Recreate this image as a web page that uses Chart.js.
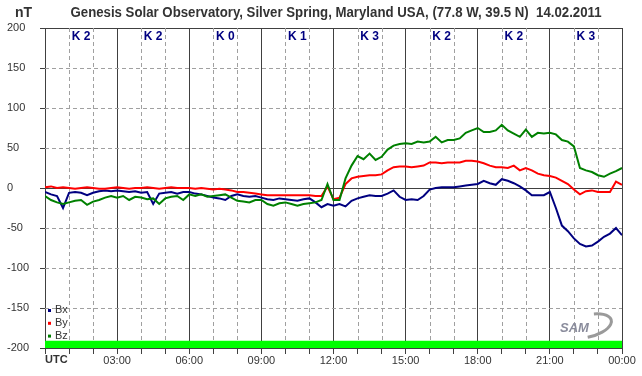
<!DOCTYPE html>
<html>
<head>
<meta charset="utf-8">
<script src="https://cdn.jsdelivr.net/npm/chart.js@4.4.0/dist/chart.umd.min.js"></script>
<style>
  html, body { margin: 0; padding: 0; background: #fff; }
  canvas { display: block; }
</style>
</head>
<body>
<canvas id="magChart" width="642" height="376"></canvas>
<script>
// magnetometer samples every 15 minutes, 00:00 .. 24:00 UTC (nT)
const stepHours = 0.25;

const bx = [
  -5, -8, -10, -25, -6, -5, -6, -9, -6, -4, -3, -4,
  -3, -4, -5, -4, -6, -5, -20, -7, -6, -5, -7, -5,
  -5, -7, -8, -10, -12, -13, -15, -10, -8, -10, -11, -10,
  -12, -14, -15, -13, -14, -15, -16, -14, -13, -18, -24, -20,
  -22, -20, -23, -16, -13, -11, -9, -10, -10, -7, -3, -11,
  -15, -14, -15, -10, -2, 0, 1, 1, 1, 2, 3, 4,
  5, 9, 6, 4, 11, 9, 6, 2, -3, -9, -9, -9,
  -5, -25, -47, -54, -63, -70, -73, -72, -67, -61, -57, -50,
  -59
];

const by = [
  1, 2, 0, 1, 0, -1, 0, 1, 0, -1, -1, 0,
  1, 0, -1, 0, 0, 1, 0, -1, 0, 1, 0, 0,
  0, -1, 0, -1, -2, -1, -2, -3, -5, -5, -6, -7,
  -8, -9, -9, -9, -9, -9, -9, -9, -9, -10, -10, 2,
  -14, -12, 5, 12, 14, 15, 16, 16, 17, 22, 26, 27,
  27, 26, 27, 28, 32, 32, 31, 32, 32, 32, 34, 34,
  33, 31, 28, 26, 26, 25, 28, 22, 25, 22, 18, 16,
  15, 13, 9, 5, -2, -8, -4, -3, -5, -5, -5, 8,
  4
];

const bz = [
  -10, -15, -18, -20, -18, -16, -15, -21, -17, -15, -12, -10,
  -12, -10, -15, -11, -12, -14, -13, -20, -13, -11, -10, -15,
  -8, -10, -8, -11, -10, -9, -8, -12, -16, -17, -18, -15,
  -15, -20, -22, -19, -18, -20, -22, -20, -19, -18, -15, 5,
  -15, -15, 12, 28, 40, 36, 43, 35, 39, 48, 53, 55,
  56, 55, 58, 57, 58, 64, 57, 60, 60, 62, 69, 72,
  75, 70, 70, 72, 79, 72, 68, 64, 73, 64, 69, 68,
  69, 67, 60, 58, 52, 25, 22, 20, 16, 14, 18, 21,
  25
];

// K index per 3-hour block
const kIndex = [2, 2, 0, 1, 3, 2, 2, 3];
const timeLabels = ['UTC', '03:00', '06:00', '09:00', '12:00', '15:00', '18:00', '21:00', '00:00'];
const bandTop = -191;

const titleText = 'Genesis Solar Observatory, Silver Spring, Maryland USA, (77.8 W, 39.5 N)  14.02.2011';
const FONT = "'Liberation Sans', Arial, sans-serif";
const DARK = '#404040';

function toPoints(arr) {
  return arr.map((v, i) => ({ x: i * stepHours, y: v }));
}

Chart.defaults.font.family = FONT;
Chart.defaults.font.size = 11;
Chart.defaults.color = '#333';

const dashGrid = {
  id: 'dashGrid',
  beforeDatasetsDraw(chart) {
    const { ctx, chartArea: a, scales: { x, y } } = chart;
    ctx.save();
    ctx.strokeStyle = '#a0a0a0';
    ctx.lineWidth = 1;
    ctx.setLineDash([4, 3]);
    for (let h = 1; h < 24; h++) {
      if (h % 3 === 0) continue;
      const px = Math.round(x.getPixelForValue(h)) + 0.5;
      ctx.beginPath();
      ctx.moveTo(px, a.top);
      ctx.lineTo(px, a.bottom);
      ctx.stroke();
    }
    for (const v of [-150, -100, -50, 50, 100, 150]) {
      const py = Math.round(y.getPixelForValue(v)) + 0.5;
      ctx.beginPath();
      ctx.moveTo(a.left, py);
      ctx.lineTo(a.right, py);
      ctx.stroke();
    }
    ctx.restore();
  }
};

const extras = {
  id: 'extras',
  afterDraw(chart) {
    const { ctx, chartArea: a, scales: { x } } = chart;
    ctx.save();

    // title + unit
    ctx.fillStyle = '#333';
    ctx.textBaseline = 'middle';
    ctx.font = 'bold 14px ' + FONT;
    ctx.textAlign = 'center';
    ctx.fillText(titleText, 336, 13, 531);
    ctx.textAlign = 'left';
    ctx.fillText('nT', 15, 13);

    // K index labels
    ctx.fillStyle = '#000080';
    ctx.font = 'bold 12px ' + FONT;
    ctx.textAlign = 'center';
    kIndex.forEach((k, i) => {
      ctx.fillText('K ' + k, x.getPixelForValue(i * 3 + 1.5), a.top + 9);
    });

    // UTC label
    ctx.fillStyle = '#333';
    ctx.font = 'bold 11px ' + FONT;
    ctx.textAlign = 'left';
    ctx.fillText(timeLabels[0], a.left, 360);

    // legend
    ctx.font = '11px ' + FONT;
    chart.data.datasets.slice(0, 3).forEach((ds, i) => {
      const yy = 310 + i * 12.8;
      ctx.fillStyle = ds.borderColor;
      ctx.fillRect(48, yy - 1, 3, 3);
      ctx.fillStyle = '#333';
      ctx.fillText(ds.label, 55, yy);
    });

    // SAM logo
    ctx.strokeStyle = '#9a9a9a';
    ctx.lineWidth = 3;
    ctx.beginPath();
    ctx.ellipse(588, 326, 24, 11, -0.25, -1.2, 1.7);
    ctx.stroke();
    ctx.fillStyle = '#8a8c9c';
    ctx.font = 'italic bold 13px ' + FONT;
    ctx.fillText('SAM', 560, 328);

    ctx.restore();
  }
};

new Chart(document.getElementById('magChart').getContext('2d'), {
  type: 'line',
  data: {
    datasets: [
      { label: 'Bx', data: toPoints(bx), borderColor: '#000080', order: 3 },
      { label: 'By', data: toPoints(by), borderColor: '#ff0000', order: 2 },
      { label: 'Bz', data: toPoints(bz), borderColor: '#008000', order: 1 },
      {
        label: 'K',
        data: [{ x: 0, y: bandTop }, { x: 24, y: bandTop }],
        borderWidth: 0,
        borderColor: '#00ff00',
        backgroundColor: '#00ff00',
        fill: 'start',
        order: 4
      }
    ]
  },
  options: {
    responsive: false,
    animation: false,
    devicePixelRatio: 1,
    layout: { padding: { left: 7, top: 28, right: 20, bottom: 0 } },
    elements: {
      line: { borderWidth: 2, tension: 0 },
      point: { radius: 0 }
    },
    plugins: {
      legend: { display: false },
      title: { display: false },
      tooltip: { enabled: false }
    },
    scales: {
      x: {
        type: 'linear',
        min: 0,
        max: 24,
        afterFit: (s) => { s.height = 28; },
        ticks: {
          stepSize: 1,
          autoSkip: false,
          maxRotation: 0,
          padding: 0,
          color: '#333',
          callback: (v) => (v % 3 === 0 && v > 0) ? timeLabels[v / 3] : ''
        },
        grid: {
          color: (c) => (c.tick && c.tick.value % 3 === 0) ? DARK : 'transparent',
          tickColor: DARK,
          tickLength: 6
        },
        border: { color: DARK }
      },
      y: {
        min: -200,
        max: 200,
        afterFit: (s) => { s.width = 38; },
        ticks: {
          stepSize: 50,
          crossAlign: 'far',
          color: '#333'
        },
        grid: {
          color: (c) => (c.tick && [0, 200, -200].includes(c.tick.value)) ? DARK : 'transparent',
          tickColor: DARK,
          tickLength: 5
        },
        border: { color: DARK }
      }
    }
  },
  plugins: [dashGrid, extras]
});
</script>
</body>
</html>
